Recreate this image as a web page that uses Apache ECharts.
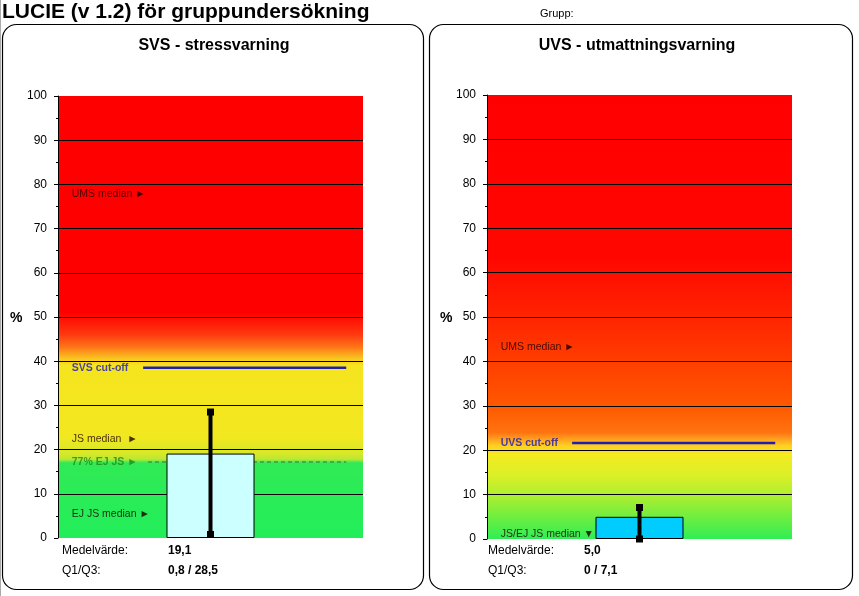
<!DOCTYPE html>
<html>
<head>
<meta charset="utf-8">
<script src="https://cdn.jsdelivr.net/npm/echarts@6/dist/echarts.min.js"></script>
<style>
  html, body { margin: 0; padding: 0; background: #fff; }
  #chart { width: 859px; height: 596px; }
</style>
</head>
<body>
<div id="chart"></div>
<script>
// data
const yTicks = [0, 10, 20, 30, 40, 50, 60, 70, 80, 90, 100];

const svsMean = 19.1;
const svsQ = [0.8, 28.5];
const svsCutoff = 38.5;
const svsEj77 = 17.2;
const svsLabels = ['UMS median ►', 'JS median  ►', 'EJ JS median ►'];
const svsLabelVals = [77.8, 22.4, 5.4];

const uvsMean = 5.0;
const uvsQ = [0, 7.1];
const uvsCutoff = 21.6;
const uvsLabels = ['UMS median ►', 'JS/EJ JS median ▼'];
const uvsLabelVals = [43.2, 1.0];

const FONT = 'Liberation Sans, Arial, sans-serif';

let app = {};

// bakgrund (gradient) per diagram
app.bgSvs = new echarts.graphic.LinearGradient(0, 0, 0, 1, [
	{ offset: 0, color: '#ff0000' },
	{ offset: 0.49, color: '#ff0000' },
	{ offset: 0.54, color: '#ff3a10' },
	{ offset: 0.57, color: '#ff7a18' },
	{ offset: 0.595, color: '#f8c820' },
	{ offset: 0.61, color: '#f5e41e' },
	{ offset: 0.77, color: '#f2e820' },
	{ offset: 0.81, color: '#d6e82a' },
	{ offset: 0.822, color: '#b8e834' },
	{ offset: 0.83, color: '#30ea55' },
	{ offset: 1, color: '#22ee5a' }
]);

app.bgUvs = new echarts.graphic.LinearGradient(0, 0, 0, 1, [
	{ offset: 0, color: '#ff0000' },
	{ offset: 0.36, color: '#ff0600' },
	{ offset: 0.5, color: '#ff2400' },
	{ offset: 0.6, color: '#ff3e00' },
	{ offset: 0.7, color: '#ff5800' },
	{ offset: 0.76, color: '#ff7410' },
	{ offset: 0.775, color: '#ffa020' },
	{ offset: 0.79, color: '#ffd020' },
	{ offset: 0.81, color: '#f5ea20' },
	{ offset: 0.86, color: '#d8f028' },
	{ offset: 0.9, color: '#b0ee30' },
	{ offset: 0.95, color: '#70ee40' },
	{ offset: 1, color: '#30ee55' }
]);

// splitLine: inga linjer vid 0 och 100
let splitColors = yTicks.map(function (v) {
	return (v === 0 || v === 100) ? 'rgba(0,0,0,0)' : '#000';
});

app.yAxis = function (idx) {
	return {
		type: 'value', gridIndex: idx, min: 0, max: 100, interval: 10,
		axisLine: { show: true, lineStyle: { color: '#000', width: 1 } },
		axisTick: { show: true, length: 4, lineStyle: { color: '#000' } },
		minorTick: { show: true, splitNumber: 2, length: 2, lineStyle: { color: '#000' } },
		axisLabel: { color: '#000', fontFamily: FONT, fontSize: 12, margin: 11 },
		splitLine: { show: true, lineStyle: { color: splitColors, width: 1 } }
	};
};

app.xAxis = function (idx) {
	return { type: 'value', gridIndex: idx, min: 0, max: 1, show: false };
};

// serier för ett diagram
app.panelSeries = function (idx, mean, q, barColor, cutoff, cutName, labels, labelVals) {
	let s = [];
	s.push({
		type: 'bar', xAxisIndex: idx, yAxisIndex: idx, barWidth: 88, z: 3,
		data: [[0.5, mean]],
		itemStyle: { color: barColor, borderColor: '#000', borderWidth: 1 },
		silent: true
	});
	s.push({
		type: 'line', xAxisIndex: idx, yAxisIndex: idx, z: 5,
		data: [[0.5, q[0]], [0.5, q[1]]],
		symbol: 'rect', symbolSize: 7, showAllSymbol: true,
		itemStyle: { color: '#000' },
		lineStyle: { color: '#000', width: 4 }
	});
	s.push({
		type: 'line', xAxisIndex: idx, yAxisIndex: idx, z: 4,
		data: [[0.279, cutoff], [0.945, cutoff]],
		symbol: 'none',
		lineStyle: { color: '#2020b0', width: 2.5 }
	});
	s.push({
		type: 'scatter', xAxisIndex: idx, yAxisIndex: idx, z: 6,
		symbolSize: 0,
		data: [[0.045, cutoff]],
		label: {
			show: true, position: 'right', distance: 0, formatter: cutName,
			color: '#1a1ab8', fontWeight: 'bold', fontSize: 10.5, fontFamily: FONT
		}
	});
	s.push({
		type: 'scatter', xAxisIndex: idx, yAxisIndex: idx, z: 6,
		symbolSize: 0,
		data: labelVals.map(function (v, i) { return { value: [0.045, v], name: labels[i] }; }),
		label: {
			show: true, position: 'right', distance: 0, formatter: '{b}',
			color: '#1a0000', fontSize: 10.5, fontFamily: FONT
		}
	});
	return s;
};

app.init = function () {
	app.chart = echarts.init(document.getElementById('chart'));

	let series = []
		.concat(app.panelSeries(0, svsMean, svsQ, '#ccffff', svsCutoff, 'SVS cut-off', svsLabels, svsLabelVals))
		.concat(app.panelSeries(1, uvsMean, uvsQ, '#00ccff', uvsCutoff, 'UVS cut-off', uvsLabels, uvsLabelVals));

	// 77% EJ JS streckad linje
	series.push({
		type: 'line', xAxisIndex: 0, yAxisIndex: 0, z: 2,
		data: [[0.295, svsEj77], [0.945, svsEj77]],
		symbol: 'none',
		lineStyle: { color: '#3c6e46', width: 1, type: [4, 3] }
	});
	series.push({
		type: 'scatter', xAxisIndex: 0, yAxisIndex: 0, z: 6,
		symbolSize: 0,
		data: [[0.045, svsEj77]],
		label: {
			show: true, position: 'right', distance: 0, formatter: '77% EJ JS ►',
			color: '#1f8a1f', fontWeight: 'bold', fontSize: 10.5, fontFamily: FONT
		}
	});

	let txt = function (x, y, text, size, weight, align) {
		return {
			type: 'text', x: x, y: y, silent: true,
			style: {
				text: text, fill: '#000', font: (weight || 'normal') + ' ' + size + 'px ' + FONT,
				align: align || 'left', verticalAlign: 'middle'
			}
		};
	};

	app.option = {
		animation: false,
		backgroundColor: '#fff',
		grid: [
			{ left: 58, top: 96, width: 305, height: 442, show: true, borderWidth: 0, backgroundColor: app.bgSvs },
			{ left: 487, top: 95, width: 305, height: 444, show: true, borderWidth: 0, backgroundColor: app.bgUvs }
		],
		xAxis: [app.xAxis(0), app.xAxis(1)],
		yAxis: [app.yAxis(0), app.yAxis(1)],
		series: series,
		graphic: [
			{ type: 'line', shape: { x1: 0.5, y1: 0, x2: 0.5, y2: 596 }, style: { stroke: '#aaa', lineWidth: 1 } },
			{ type: 'rect', shape: { x: 2.5, y: 24.5, width: 421, height: 565, r: 14 }, style: { fill: 'none', stroke: '#000', lineWidth: 1.2 } },
			{ type: 'rect', shape: { x: 429.5, y: 24.5, width: 423, height: 565, r: 14 }, style: { fill: 'none', stroke: '#000', lineWidth: 1.2 } },
			txt(2, 12, 'LUCIE (v 1.2) för gruppundersökning', 21, 'bold'),
			txt(540, 14, 'Grupp:', 11),
			txt(214, 46, 'SVS - stressvarning', 16, 'bold', 'center'),
			txt(637, 46, 'UVS - utmattningsvarning', 16, 'bold', 'center'),
			txt(10, 318, '%', 14, 'bold'),
			txt(440, 318, '%', 14, 'bold'),
			txt(62, 551, 'Medelvärde:', 12),
			txt(168, 551, '19,1', 12, 'bold'),
			txt(62, 571, 'Q1/Q3:', 12),
			txt(168, 571, '0,8 / 28,5', 12, 'bold'),
			txt(488, 551, 'Medelvärde:', 12),
			txt(584, 551, '5,0', 12, 'bold'),
			txt(488, 571, 'Q1/Q3:', 12),
			txt(584, 571, '0 / 7,1', 12, 'bold')
		]
	};

	app.chart.setOption(app.option);
};

app.init();
</script>
</body>
</html>
